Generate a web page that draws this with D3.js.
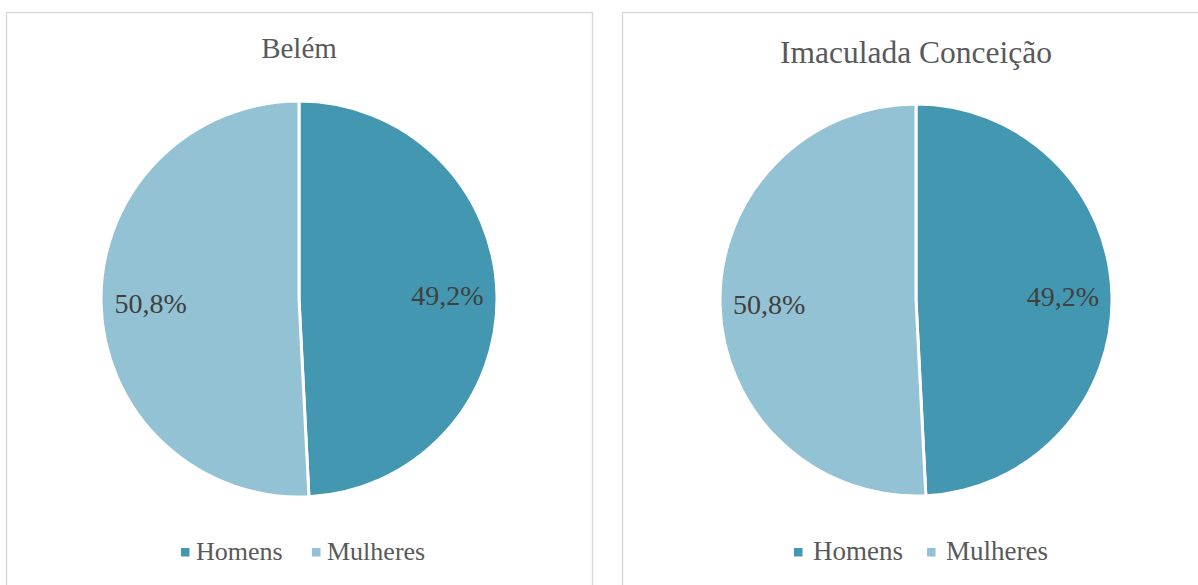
<!DOCTYPE html>
<html><head><meta charset="utf-8">
<script src="https://cdn.jsdelivr.net/npm/d3@7"></script>
<style>html,body{margin:0;padding:0;background:#fff;}svg{display:block;}
.serif{font-family:"Liberation Serif","Times New Roman",serif;}</style>
</head><body>
<svg id="chart" width="1198" height="585"></svg>
<script>
const categories = ["Homens", "Mulheres"];
const cities = ["Belém", "Imaculada Conceição"];
const belemValues = [49.2, 50.8];
const imaculadaValues = [49.2, 50.8];
const colors = ["#4397b0", "#93c2d4"];

const svg = d3.select("#chart");

const panels = [
  {title: cities[0], values: belemValues, x: 6.5, w: 586, cx: 299, cy: 299, r: 198, ty: 58, tfs: 29,
   lx: 181, lfs: 26, sq: [0, 131], tx: 15},
  {title: cities[1], values: imaculadaValues, x: 622.5, w: 586, cx: 916, cy: 300, r: 196, ty: 63, tfs: 31.5,
   lx: 794, lfs: 27, sq: [0, 133], tx: 19}
];

const color = d3.scaleOrdinal().domain(categories).range(colors);
const pie = d3.pie().sort(null).value(d => d.v);

panels.forEach(p => {
  const g = svg.append("g");
  g.append("rect").attr("x", p.x).attr("y", 12.5).attr("width", p.w).attr("height", 600)
    .attr("fill", "#fff").attr("stroke", "#d9d9d9").attr("stroke-width", 1.5);
  g.append("text").attr("class", "serif").attr("x", p.cx).attr("y", p.ty).attr("text-anchor", "middle")
    .attr("font-size", p.tfs).attr("fill", "#595959").text(p.title);
  const data = categories.map((c, i) => ({c, v: p.values[i]}));
  const arcs = pie(data);
  const arc = d3.arc().innerRadius(0).outerRadius(p.r);
  const pg = g.append("g").attr("transform", `translate(${p.cx},${p.cy})`);
  pg.selectAll("path").data(arcs).join("path")
    .attr("d", arc).attr("fill", d => color(d.data.c))
    .attr("stroke", "#fff").attr("stroke-width", 3).attr("stroke-linejoin", "round");
  const labelArc = d3.arc().innerRadius(p.r * 0.75).outerRadius(p.r * 0.75);
  pg.selectAll("text").data(arcs).join("text")
    .attr("class", "serif")
    .attr("x", d => labelArc.centroid(d)[0])
    .attr("y", d => labelArc.centroid(d)[1] + 10)
    .attr("text-anchor", "middle")
    .attr("font-size", 28).attr("fill", "#404040")
    .text(d => d.data.v.toFixed(1).replace(".", ",") + "%");
  const lg = g.append("g").attr("transform", `translate(${p.lx},0)`);
  categories.forEach((c, i) => {
    lg.append("rect").attr("x", p.sq[i]).attr("y", 548).attr("width", 8.5).attr("height", 8.5).attr("fill", color(c));
    lg.append("text").attr("class", "serif").attr("x", p.sq[i] + p.tx).attr("y", 560)
      .attr("font-size", p.lfs).attr("fill", "#595959").text(c);
  });
});
</script>
</body></html>
